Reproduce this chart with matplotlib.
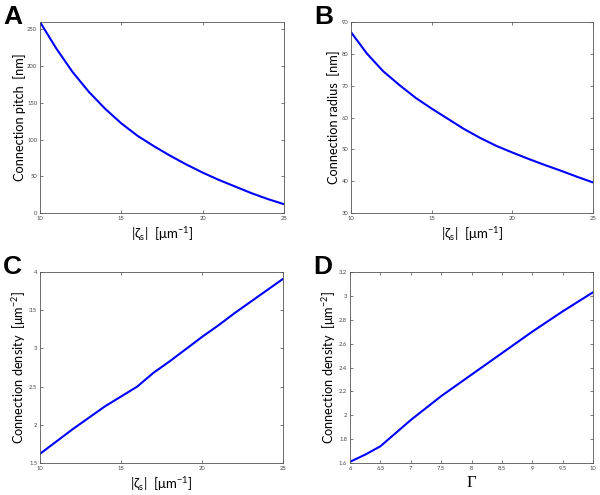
import matplotlib
matplotlib.use('Agg')
from matplotlib import pyplot as plt

# panel A / B / C share the same x values
zeta = [10, 11, 12, 13, 14, 15, 16, 17, 18, 19, 20, 21, 22, 23, 24, 25]
pitch = [260, 224, 192, 165, 142, 122, 105, 91, 78, 66, 55, 45, 36, 27, 19, 12]
radius = [86.8, 80, 74.5, 70.2, 66.2, 62.8, 59.6, 56.4, 53.6, 51.1, 49, 47, 45.1, 43.3, 41.4, 39.6]
density_zeta = [1.62, 1.78, 1.94, 2.09, 2.24, 2.37, 2.50, 2.68, 2.83, 2.99, 3.15, 3.30, 3.46, 3.61, 3.76, 3.91]

# panel D
gamma = [6, 6.25, 6.5, 6.75, 7, 7.5, 8, 8.5, 9, 9.5, 10]
density_gamma = [1.61, 1.67, 1.74, 1.85, 1.96, 2.16, 2.34, 2.52, 2.70, 2.87, 3.03]

zeta_label = '|ζ$_\\mathregular{s}$|  [μm$^\\mathregular{-1}$]'
density_label = 'Connection density  [μm$^\\mathregular{-2}$]'

plt.rcParams['font.family'] = ['Lato', 'Open Sans', 'DejaVu Sans']

fig = plt.figure(figsize=(6, 4.95), dpi=100)
W, H = 600, 495


def make_axes(left, top, right, bottom):
    return fig.add_axes([left / W, 1 - bottom / H, (right - left) / W, (bottom - top) / H])


def style(ax):
    ax.tick_params(direction='in', top=True, right=True, labelsize=4.2,
                   length=2, width=0.5, colors='#444444', pad=2)
    for s in ax.spines.values():
        s.set_linewidth(0.6)
        s.set_color('#555555')


panels = [
    ('A', (40, 22, 284, 213), zeta, pitch, (10, 25), (0, 260), [0, 50, 100, 150, 200, 250],
     [10, 15, 20, 25], 'Connection pitch  [nm]', zeta_label),
    ('B', (351, 22, 593, 213), zeta, radius, (10, 25), (30, 90), [30, 40, 50, 60, 70, 80, 90],
     [10, 15, 20, 25], 'Connection radius  [nm]', zeta_label),
    ('C', (40, 272, 283, 463), zeta, density_zeta, (10, 25), (1.5, 4), [1.5, 2, 2.5, 3, 3.5, 4],
     [10, 15, 20, 25], density_label, zeta_label),
    ('D', (350, 272, 593, 463), gamma, density_gamma, (6, 10), (1.6, 3.2),
     [1.6, 1.8, 2, 2.2, 2.4, 2.6, 2.8, 3, 3.2],
     [6, 6.5, 7, 7.5, 8, 8.5, 9, 9.5, 10], density_label, None),
]

for letter, box, xs, ys, xlim, ylim, yticks, xticks, ylabel, xlabel in panels:
    ax = make_axes(*box)
    ax.plot(xs, ys, color='#0000ff', linewidth=1.5)
    ax.set_xlim(*xlim)
    ax.set_ylim(*ylim)
    ax.set_xticks(xticks)
    ax.set_yticks(yticks)
    ax.set_xticklabels([f'{t:g}' for t in xticks])
    ax.set_yticklabels([f'{t:g}' for t in yticks])
    style(ax)
    ax.set_ylabel(ylabel, fontsize=9.2, labelpad=1)
    if xlabel:
        ax.set_xlabel(xlabel, fontsize=9.5, labelpad=3)
    else:
        ax.set_xlabel('Γ', fontsize=12, labelpad=3, family=['Liberation Serif'])
    fig.text((box[0] - 37) / W, 1 - (box[1] - 17) / H, letter, fontsize=19,
             fontweight='bold', va='top', ha='left', family=['Liberation Sans'])

fig.savefig('out.png', dpi=100)
